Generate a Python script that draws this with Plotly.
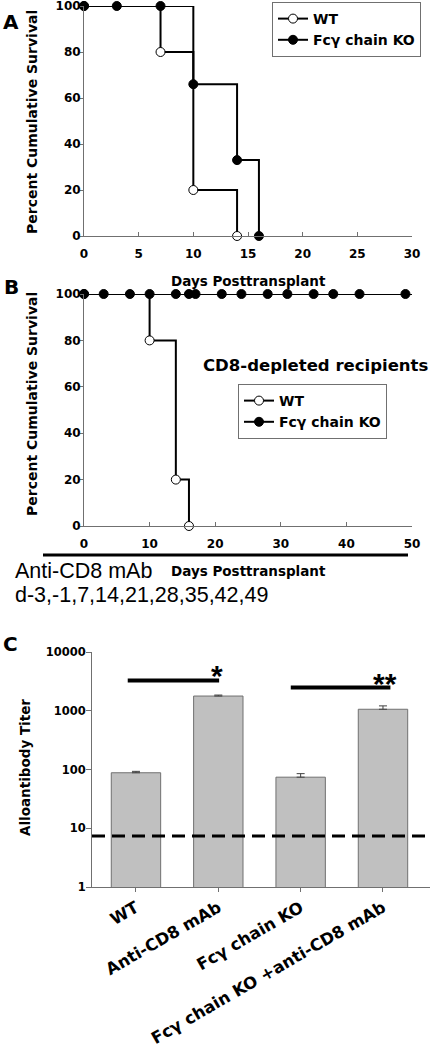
import math
import plotly.graph_objects as go

W, H = 431, 1050
def px(x): return x / W
def py(y): return 1 - y / H

FONT = "Liberation Sans, Arial, sans-serif"
BFONT = "DejaVu Sans, Liberation Sans, sans-serif"

# Panel A data (Kaplan-Meier steps)
a_wt_days = [0, 7, 10, 14]
a_wt_surv = [100, 80, 20, 0]
a_ko_days = [0, 3, 7, 10, 14, 16]
a_ko_surv = [100, 100, 100, 66, 33, 0]

# Panel B data
b_wt_days = [0, 10, 14, 16]
b_wt_surv = [100, 80, 20, 0]
b_ko_days = [0, 3, 7, 10, 14, 16, 17, 21, 24, 28, 31, 35, 38, 42, 49]
b_ko_surv = [100] * 15
b_end_day = 50

# Panel C data
c_groups = ["WT", "Anti-CD8 mAb", "Fcγ chain KO", "Fcγ chain KO +anti-CD8 mAb"]
c_titer = [88, 1780, 74, 1060]
c_err = [5, 70, 11, 150]
c_detect_limit = 7.4
c_sig1 = {"x": [-0.1, 1.01], "y": 3280, "label": "*", "lx": 0.98}
c_sig2 = {"x": [1.88, 3.09], "y": 2480, "label": "**", "lx": 3.02}

fig = go.Figure()

line = dict(color="black", width=2)
wt_marker = dict(symbol="circle", size=9, color="white", line=dict(color="black", width=1))
ko_marker = dict(symbol="circle", size=9, color="black", line=dict(color="black", width=1))

# Panel A
fig.add_trace(go.Scatter(x=a_wt_days, y=a_wt_surv, mode="lines+markers", line=dict(shape="hv", **line),
                         marker=wt_marker, name="WT", xaxis="x", yaxis="y", cliponaxis=False, legend="legend"))
fig.add_trace(go.Scatter(x=a_ko_days, y=a_ko_surv, mode="lines+markers", line=dict(shape="hv", **line),
                         marker=ko_marker, name="Fcγ chain KO", xaxis="x", yaxis="y", cliponaxis=False, legend="legend"))

# Panel B
fig.add_trace(go.Scatter(x=b_wt_days, y=b_wt_surv, mode="lines+markers", line=dict(shape="hv", **line),
                         marker=wt_marker, name="WT", xaxis="x2", yaxis="y2", cliponaxis=False, legend="legend2"))
fig.add_trace(go.Scatter(x=b_ko_days, y=b_ko_surv, mode="lines+markers", line=dict(shape="hv", **line),
                         marker=ko_marker, name="Fcγ chain KO", xaxis="x2", yaxis="y2", cliponaxis=False, legend="legend2"))
fig.add_trace(go.Scatter(x=[b_ko_days[-1], b_end_day], y=[b_ko_surv[-1], b_ko_surv[-1]], mode="lines", line=line,
                         showlegend=False, xaxis="x2", yaxis="y2", cliponaxis=False, hoverinfo="skip"))

# Panel C
fig.add_trace(go.Bar(x=list(range(4)), y=c_titer, width=0.6, marker=dict(color="#c0c0c0", line=dict(color="#707070", width=1)),
                     error_y=dict(type="data", array=c_err, arrayminus=[0]*4, symmetric=False, color="#404040", thickness=1, width=4),
                     xaxis="x3", yaxis="y3", showlegend=False))

AXC = "#707070"
base = dict(showline=True, linecolor=AXC, linewidth=1, showgrid=False, zeroline=False,
            tickcolor=AXC, automargin=False, ticklabeloverflow="allow",
            tickfont=dict(family=BFONT, size=12, color="black", weight="bold"))
xcommon = dict(base, ticks="inside", ticklen=4, ticklabelstandoff=7)
ycommon = dict(base, ticks="outside", ticklen=3, ticklabelstandoff=-3)

legend_font = dict(family=BFONT, size=14, color="black", weight="bold")

fig.update_layout(
    width=W, height=H, margin=dict(l=0, r=0, t=0, b=0, autoexpand=False),
    paper_bgcolor="white", plot_bgcolor="white",
    font=dict(family=FONT, color="black"),
    xaxis=dict(domain=[px(84), px(412)], range=[0, 30], tickvals=[0, 5, 10, 15, 20, 25, 30], anchor="y", **xcommon),
    yaxis=dict(domain=[py(236), py(6)], range=[0, 100], tickvals=[0, 20, 40, 60, 80, 100], anchor="x", **ycommon),
    xaxis2=dict(domain=[px(84), px(412)], range=[0, 50], tickvals=[0, 10, 20, 30, 40, 50], anchor="y2", **xcommon),
    yaxis2=dict(domain=[py(526), py(294)], range=[0, 100], tickvals=[0, 20, 40, 60, 80, 100], anchor="x2", **ycommon),
    xaxis3=dict(domain=[px(92), px(430)], range=[-0.534, 3.571], tickvals=list(range(4)), ticktext=c_groups,
                tickangle=-30, anchor="y3", showline=True, linecolor=AXC, linewidth=1, showgrid=False, zeroline=False,
                ticks="outside", ticklen=4, tickcolor=AXC, automargin=False, ticklabeloverflow="allow",
                tickfont=dict(family=BFONT, size=16.5, color="black", weight="bold")),
    yaxis3=dict(domain=[py(887), py(652)], type="log", range=[0, 4], tickvals=[1, 10, 100, 1000, 10000],
                ticktext=["1", "10", "100", "1000", "10000"], anchor="x3", showline=True, linecolor=AXC, linewidth=1,
                showgrid=False, zeroline=False, ticks="outside", ticklen=5, tickcolor=AXC, automargin=False,
                ticklabeloverflow="allow", ticklabelstandoff=-2,
                tickfont=dict(family=BFONT, size=11.5, color="black", weight="bold")),
    legend=dict(x=px(272), y=py(2), xanchor="left", yanchor="top", bgcolor="white", bordercolor="#707070", borderwidth=1,
                font=legend_font, tracegroupgap=0, itemwidth=30),
    legend2=dict(x=px(238), y=py(384), xanchor="left", yanchor="top", bgcolor="white", bordercolor="#707070", borderwidth=1,
                 font=legend_font, tracegroupgap=0, itemwidth=30),
    showlegend=True,
    bargap=0.4,
)

def ann(text, x, y, size, bold=True, xanchor="center", yanchor="middle", angle=0):
    return dict(text=text, x=px(x), y=py(y), xref="paper", yref="paper", showarrow=False,
                xanchor=xanchor, yanchor=yanchor, textangle=angle,
                font=dict(family=BFONT if bold else FONT, size=size, color="black",
                          weight="bold" if bold else "normal"))

annotations = [
    ann("A", 11, 22, 20),
    ann("B", 11, 287, 20),
    ann("C", 10, 644, 20),
    ann("Percent Cumulative Survival", 32, 122, 14, angle=-90),
    ann("Percent Cumulative Survival", 32, 404, 14, angle=-90),
    ann("Alloantibody Titer", 25, 768, 13.5, angle=-90),
    ann("Days Posttransplant", 248, 281, 13.5),
    ann("Days Posttransplant", 248, 571, 13.5),
    ann("CD8-depleted recipients", 430, 366, 16.5, xanchor="right"),
    ann("Anti-CD8 mAb", 13, 571, 21.5, bold=False, xanchor="left"),
    ann("d-3,-1,7,14,21,28,35,42,49", 13, 595, 21.5, bold=False, xanchor="left"),
]
for s in (c_sig1, c_sig2):
    annotations.append(dict(text=s["label"], x=s["lx"], y=math.log10(s["y"]), xref="x3", yref="y3", showarrow=False,
                            xanchor="center", yanchor="bottom", yshift=-14,
                            font=dict(family=FONT, size=30, color="black", weight="bold")))
fig.update_layout(annotations=annotations)

shapes = [
    dict(type="line", xref="paper", yref="paper", x0=px(43), x1=px(408), y0=py(555), y1=py(555),
         line=dict(color="black", width=3)),
    dict(type="line", xref="x3 domain", yref="y3", x0=0, x1=1.01, y0=c_detect_limit, y1=c_detect_limit,
         line=dict(color="black", width=3, dash="13px,7px")),
]
for s in (c_sig1, c_sig2):
    shapes.append(dict(type="line", xref="x3", yref="y3", x0=s["x"][0], x1=s["x"][1], y0=s["y"], y1=s["y"],
                       line=dict(color="black", width=4)))
fig.update_layout(shapes=shapes)

fig.write_html("out.html", config={"displayModeBar": False},
               post_script="document.body.style.margin='0';")
